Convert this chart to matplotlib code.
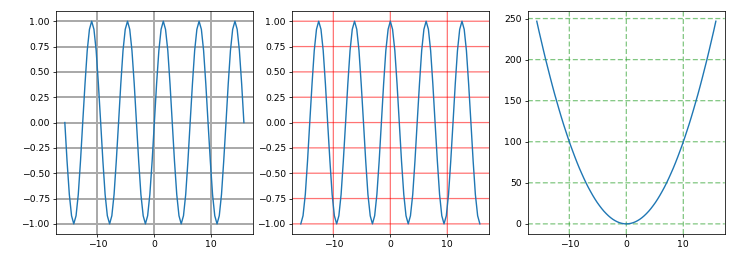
import matplotlib.pyplot as plt
from matplotlib.ticker import MultipleLocator

plt.rcParams['font.size'] = 6.7
plt.rcParams['axes.linewidth'] = 0.55
for ax_name in ['xtick', 'ytick']:
    plt.rcParams[f'{ax_name}.major.size'] = 2.2
    plt.rcParams[f'{ax_name}.major.width'] = 0.55
    plt.rcParams[f'{ax_name}.major.pad'] = 2.2

# sample points from -5*pi to 5*pi, step pi/8
x = [-15.71, -15.32, -14.92, -14.53, -14.14, -13.74, -13.35, -12.96, -12.57,
     -12.17, -11.78, -11.39, -11.00, -10.60, -10.21, -9.82, -9.42,
     -9.03, -8.64, -8.25, -7.85, -7.46, -7.07, -6.68, -6.28,
     -5.89, -5.50, -5.11, -4.71, -4.32, -3.93, -3.53, -3.14,
     -2.75, -2.36, -1.96, -1.57, -1.18, -0.79, -0.39, 0.0,
     0.39, 0.79, 1.18, 1.57, 1.96, 2.36, 2.75, 3.14,
     3.53, 3.93, 4.32, 4.71, 5.11, 5.50, 5.89, 6.28,
     6.68, 7.07, 7.46, 7.85, 8.25, 8.64, 9.03, 9.42,
     9.82, 10.21, 10.60, 11.00, 11.39, 11.78, 12.17, 12.57,
     12.96, 13.35, 13.74, 14.14, 14.53, 14.92, 15.32, 15.71]

sin_y = [0, -.38, -.71, -.92, -1, -.92, -.71, -.38, 0, .38, .71, .92, 1, .92, .71, .38,
         0, -.38, -.71, -.92, -1, -.92, -.71, -.38, 0, .38, .71, .92, 1, .92, .71, .38,
         0, -.38, -.71, -.92, -1, -.92, -.71, -.38, 0, .38, .71, .92, 1, .92, .71, .38,
         0, -.38, -.71, -.92, -1, -.92, -.71, -.38, 0, .38, .71, .92, 1, .92, .71, .38,
         0, -.38, -.71, -.92, -1, -.92, -.71, -.38, 0, .38, .71, .92, 1, .92, .71, .38,
         0]

cos_y = [-1, -.92, -.71, -.38, 0, .38, .71, .92, 1, .92, .71, .38, 0, -.38, -.71, -.92,
         -1, -.92, -.71, -.38, 0, .38, .71, .92, 1, .92, .71, .38, 0, -.38, -.71, -.92,
         -1, -.92, -.71, -.38, 0, .38, .71, .92, 1, .92, .71, .38, 0, -.38, -.71, -.92,
         -1, -.92, -.71, -.38, 0, .38, .71, .92, 1, .92, .71, .38, 0, -.38, -.71, -.92,
         -1, -.92, -.71, -.38, 0, .38, .71, .92, 1, .92, .71, .38, 0, -.38, -.71, -.92,
         -1]

sq_y = [246.74, 234.56, 222.68, 211.12, 199.86, 188.91, 178.27, 167.94, 157.91,
        148.20, 138.79, 129.69, 120.90, 112.42, 104.25, 96.38, 88.83,
        81.58, 74.64, 68.01, 61.69, 55.67, 49.97, 44.57, 39.48,
        34.70, 30.23, 26.06, 22.21, 18.66, 15.42, 12.49, 9.87,
        7.56, 5.55, 3.86, 2.47, 1.39, 0.62, 0.15, 0.0,
        0.15, 0.62, 1.39, 2.47, 3.86, 5.55, 7.56, 9.87,
        12.49, 15.42, 18.66, 22.21, 26.06, 30.23, 34.70, 39.48,
        44.57, 49.97, 55.67, 61.69, 68.01, 74.64, 81.58, 88.83,
        96.38, 104.25, 112.42, 120.90, 129.69, 138.79, 148.20, 157.91,
        167.94, 178.27, 188.91, 199.86, 211.12, 222.68, 234.56, 246.74]

fig, axes = plt.subplots(1, 3, figsize=(7.55, 2.58), dpi=100)
fig.subplots_adjust(left=0.074, right=0.960, bottom=0.093, top=0.957, wspace=0.198)

line_kw = dict(color='#1f77b4', linewidth=1.0)

axes[0].plot(x, sin_y, **line_kw)
axes[0].grid(True, color='#aaaaaa', linewidth=1.44)

axes[1].plot(x, cos_y, **line_kw)
axes[1].grid(True, color='red', alpha=0.55, linewidth=0.9, snap=False)

axes[2].plot(x, sq_y, **line_kw)
axes[2].grid(True, color='#2ca02c', alpha=0.6, linestyle='--', linewidth=0.9,
             dashes=(4, 2), snap=False)

for ax in axes:
    ax.xaxis.set_major_locator(MultipleLocator(10))
axes[2].yaxis.set_major_locator(MultipleLocator(50))

plt.savefig('out.png', dpi=100)
